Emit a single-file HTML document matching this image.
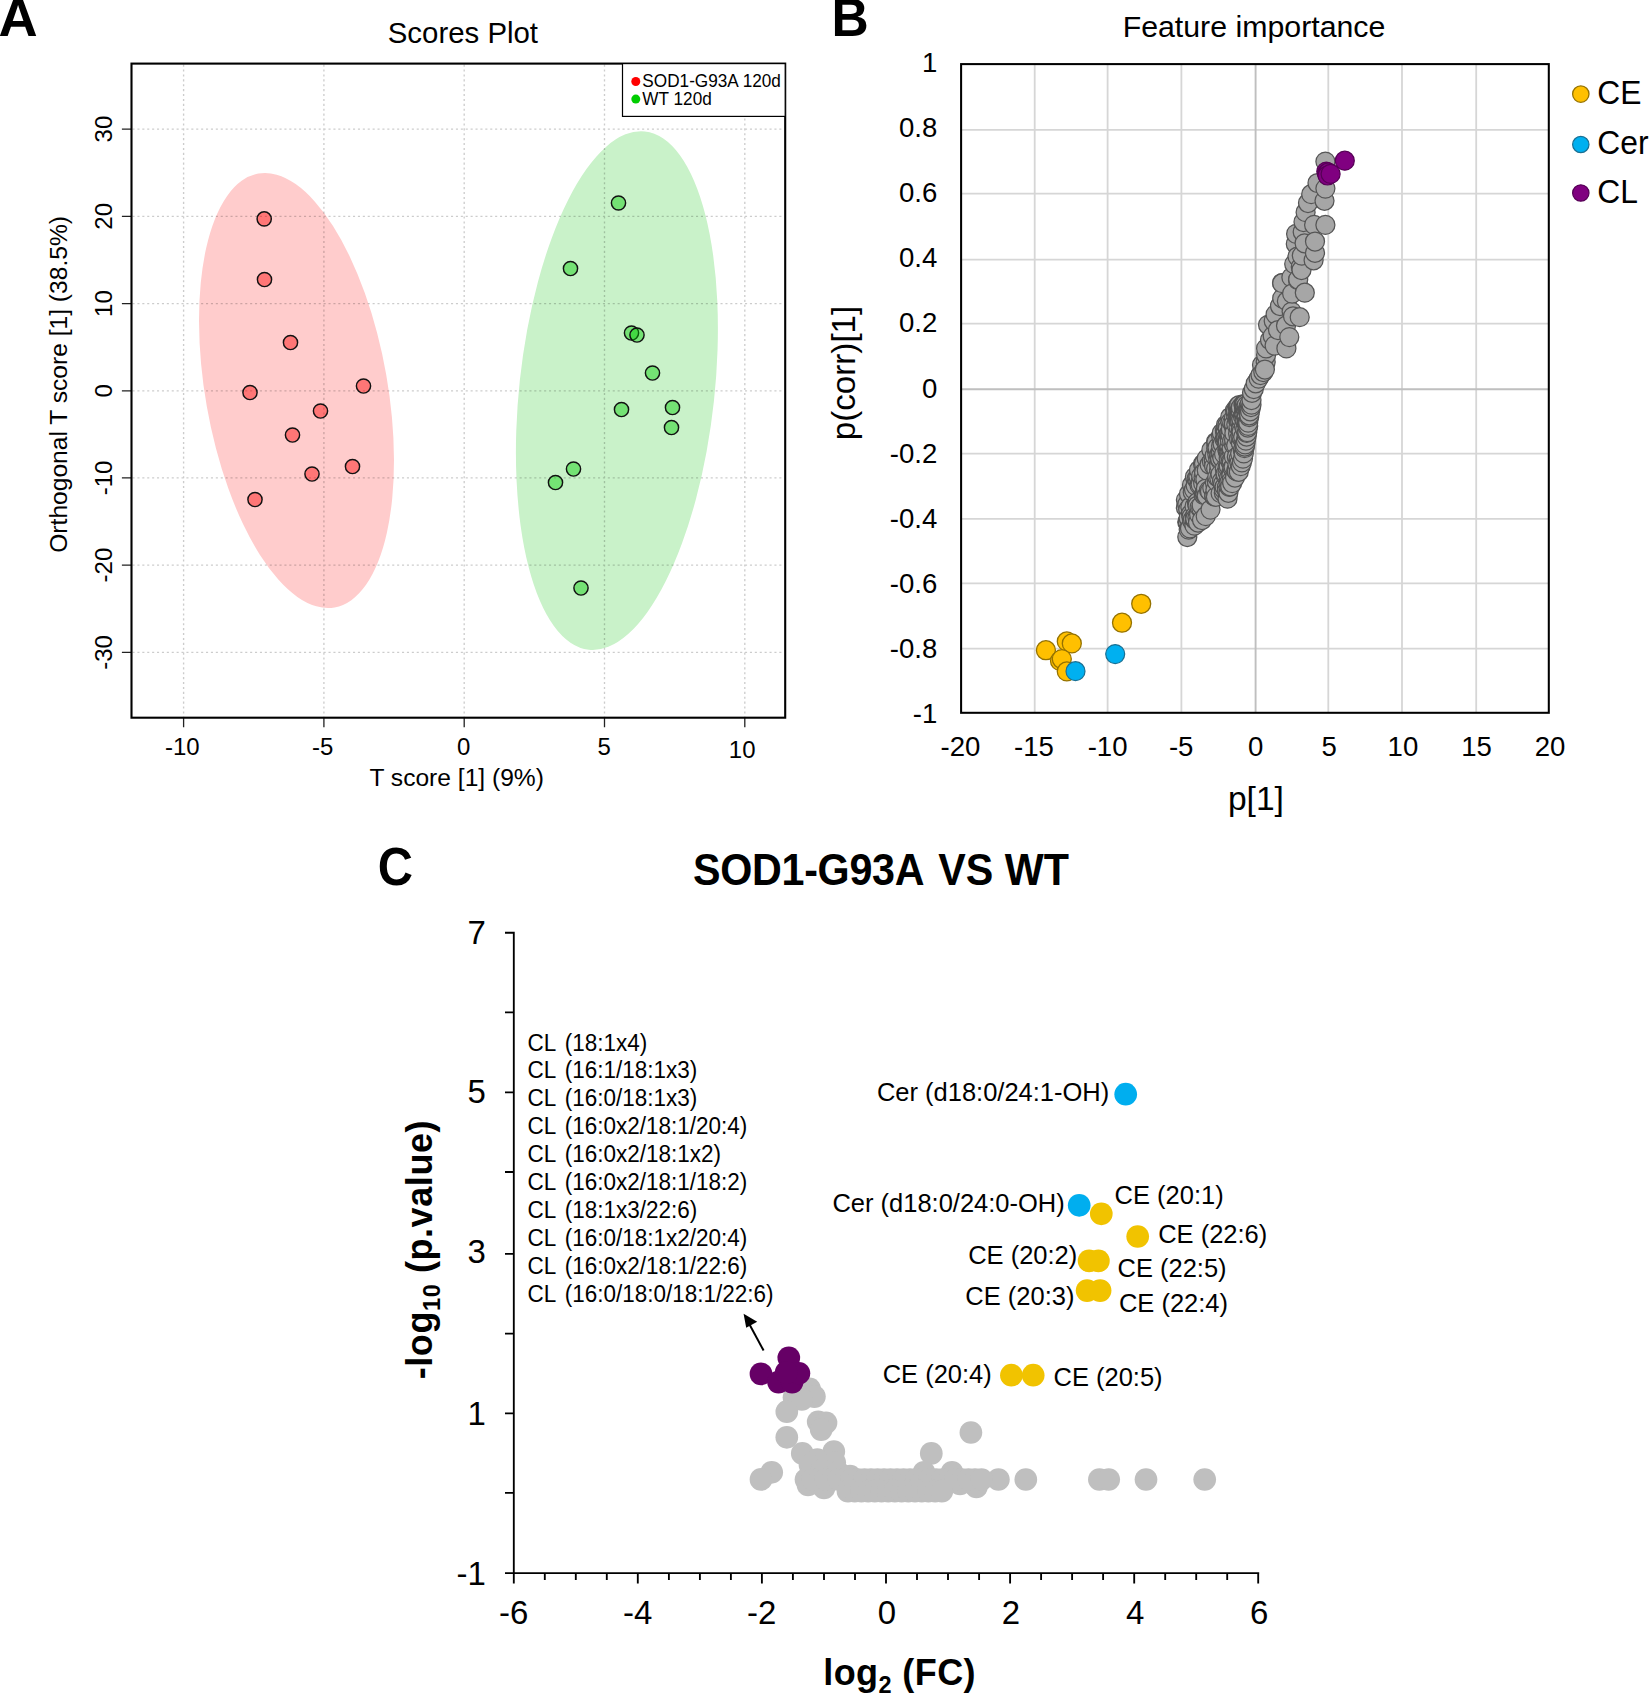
<!DOCTYPE html>
<html lang="en"><head><meta charset="utf-8"><title>Figure</title>
<style>html,body{margin:0;padding:0;background:#fff}svg{display:block}text{font-family:"Liberation Sans", sans-serif;fill:#000}</style></head><body>
<svg width="1650" height="1694" viewBox="0 0 1650 1694">
<rect width="1650" height="1694" fill="#fff"/>
<g id="panelA">
<text transform="translate(-1.4 36.4) scale(1.074 1.045)" font-size="50.5" font-weight="bold">A</text>
<text x="462.9" y="42.7" font-size="29.4" text-anchor="middle">Scores Plot</text>
<ellipse cx="296.5" cy="390.5" rx="91.1" ry="220.2" transform="rotate(-9.96 296.5 390.5)" fill="#ffcccc"/>
<ellipse cx="616.9" cy="390.6" rx="97.6" ry="260.7" transform="rotate(6.17 616.9 390.6)" fill="#c9f2c9"/>
<path d="M183.6 64.6V716.7M323.9 64.6V716.7M464.2 64.6V716.7M604.5 64.6V716.7M744.8 64.6V716.7M132.5 652.4H784.2M132.5 565.1H784.2M132.5 477.9H784.2M132.5 390.8H784.2M132.5 303.6H784.2M132.5 216.3H784.2M132.5 129.1H784.2" stroke="#000" stroke-opacity="0.2" stroke-width="1.35" stroke-dasharray="2.1 2.8" fill="none"/>
<path d="M183.6 717.7V727.3M323.9 717.7V727.3M464.2 717.7V727.3M604.5 717.7V727.3M744.8 717.7V727.3M131.5 652.4H121.9M131.5 565.1H121.9M131.5 477.9H121.9M131.5 390.8H121.9M131.5 303.6H121.9M131.5 216.3H121.9M131.5 129.1H121.9" stroke="#222" stroke-width="1.3" fill="none"/>
<rect x="131.5" y="63.6" width="653.7" height="654.1" fill="none" stroke="#000" stroke-width="2.1"/>
<circle cx="264.2" cy="218.9" r="7.1" fill="#ff0000" fill-opacity="0.42" stroke="#111" stroke-width="1.45"/>
<circle cx="264.5" cy="279.5" r="7.1" fill="#ff0000" fill-opacity="0.42" stroke="#111" stroke-width="1.45"/>
<circle cx="290.5" cy="342.5" r="7.1" fill="#ff0000" fill-opacity="0.42" stroke="#111" stroke-width="1.45"/>
<circle cx="250.0" cy="392.5" r="7.1" fill="#ff0000" fill-opacity="0.42" stroke="#111" stroke-width="1.45"/>
<circle cx="363.5" cy="386.0" r="7.1" fill="#ff0000" fill-opacity="0.42" stroke="#111" stroke-width="1.45"/>
<circle cx="320.5" cy="411.0" r="7.1" fill="#ff0000" fill-opacity="0.42" stroke="#111" stroke-width="1.45"/>
<circle cx="292.5" cy="435.0" r="7.1" fill="#ff0000" fill-opacity="0.42" stroke="#111" stroke-width="1.45"/>
<circle cx="352.5" cy="466.5" r="7.1" fill="#ff0000" fill-opacity="0.42" stroke="#111" stroke-width="1.45"/>
<circle cx="312.0" cy="474.0" r="7.1" fill="#ff0000" fill-opacity="0.42" stroke="#111" stroke-width="1.45"/>
<circle cx="255.0" cy="499.5" r="7.1" fill="#ff0000" fill-opacity="0.42" stroke="#111" stroke-width="1.45"/>
<circle cx="618.5" cy="203.0" r="7.1" fill="#00cd00" fill-opacity="0.42" stroke="#111" stroke-width="1.45"/>
<circle cx="570.5" cy="268.5" r="7.1" fill="#00cd00" fill-opacity="0.42" stroke="#111" stroke-width="1.45"/>
<circle cx="631.5" cy="333.0" r="7.1" fill="#00cd00" fill-opacity="0.42" stroke="#111" stroke-width="1.45"/>
<circle cx="637.0" cy="335.0" r="7.1" fill="#00cd00" fill-opacity="0.42" stroke="#111" stroke-width="1.45"/>
<circle cx="652.5" cy="373.0" r="7.1" fill="#00cd00" fill-opacity="0.42" stroke="#111" stroke-width="1.45"/>
<circle cx="621.5" cy="409.5" r="7.1" fill="#00cd00" fill-opacity="0.42" stroke="#111" stroke-width="1.45"/>
<circle cx="672.5" cy="407.5" r="7.1" fill="#00cd00" fill-opacity="0.42" stroke="#111" stroke-width="1.45"/>
<circle cx="671.5" cy="427.5" r="7.1" fill="#00cd00" fill-opacity="0.42" stroke="#111" stroke-width="1.45"/>
<circle cx="573.5" cy="469.0" r="7.1" fill="#00cd00" fill-opacity="0.42" stroke="#111" stroke-width="1.45"/>
<circle cx="555.5" cy="482.5" r="7.1" fill="#00cd00" fill-opacity="0.42" stroke="#111" stroke-width="1.45"/>
<circle cx="581.0" cy="588.0" r="7.1" fill="#00cd00" fill-opacity="0.42" stroke="#111" stroke-width="1.45"/>
<text transform="translate(182.3 754.8) scale(1 1.035)" font-size="24" text-anchor="middle">-10</text>
<text transform="translate(322.6 754.8) scale(1 1.035)" font-size="24" text-anchor="middle">-5</text>
<text transform="translate(463.7 754.8) scale(1 1.035)" font-size="24" text-anchor="middle">0</text>
<text transform="translate(604.2 754.8) scale(1 1.035)" font-size="24" text-anchor="middle">5</text>
<text transform="translate(742.2 758.0) scale(1 1.035)" font-size="24" text-anchor="middle">10</text>
<text transform="translate(111.9 652.4) rotate(-90) scale(1 1.035)" font-size="24" text-anchor="middle">-30</text>
<text transform="translate(111.9 565.1) rotate(-90) scale(1 1.035)" font-size="24" text-anchor="middle">-20</text>
<text transform="translate(111.9 477.9) rotate(-90) scale(1 1.035)" font-size="24" text-anchor="middle">-10</text>
<text transform="translate(111.9 390.8) rotate(-90) scale(1 1.035)" font-size="24" text-anchor="middle">0</text>
<text transform="translate(111.9 303.6) rotate(-90) scale(1 1.035)" font-size="24" text-anchor="middle">10</text>
<text transform="translate(111.9 216.3) rotate(-90) scale(1 1.035)" font-size="24" text-anchor="middle">20</text>
<text transform="translate(111.9 129.1) rotate(-90) scale(1 1.035)" font-size="24" text-anchor="middle">30</text>
<text x="456.7" y="786" font-size="24.6" text-anchor="middle">T score [1] (9%)</text>
<text transform="translate(67.2 384.4) rotate(-90)" font-size="24.6" text-anchor="middle">Orthogonal T score [1] (38.5%)</text>
<rect x="622.5" y="63.6" width="162.7" height="52.8" fill="#fff" stroke="#000" stroke-width="1.2"/>
<circle cx="635.8" cy="81.5" r="4.5" fill="#ff0000"/>
<circle cx="635.8" cy="99.1" r="4.5" fill="#00cd00"/>
<text transform="translate(642.3 86.7) scale(1 1.035)" font-size="17.2">SOD1-G93A 120d</text>
<text transform="translate(642.3 104.6) scale(1 1.035)" font-size="17.2">WT 120d</text>
</g>
<g id="panelB">
<text transform="translate(831.6 36.4) scale(1.02 1.045)" font-size="50.5" font-weight="bold">B</text>
<text x="1254" y="36.6" font-size="30.3" text-anchor="middle">Feature importance</text>
<path d="M1034.7 64.1V712.8M1107.6 64.1V712.8M1181.4 64.1V712.8M1328.3 64.1V712.8M1402.0 64.1V712.8M1476.2 64.1V712.8M961.1 648.7H1548.8M961.1 583.3H1548.8M961.1 518.9H1548.8M961.1 453.7H1548.8M961.1 323.7H1548.8M961.1 259.6H1548.8M961.1 193.7H1548.8M961.1 129.8H1548.8" stroke="#d6d6d6" stroke-width="1.8" fill="none"/>
<path d="M1255.6 64.1V712.8M961.1 389.2H1548.8" stroke="#bfbfbf" stroke-width="1.9" fill="none"/>
<rect x="961.1" y="64.1" width="587.7" height="648.7" fill="none" stroke="#000" stroke-width="2.05"/>
<text transform="translate(937.3 722.8) scale(1 1.035)" font-size="27.6" text-anchor="end">-1</text>
<text transform="translate(937.3 657.7) scale(1 1.035)" font-size="27.6" text-anchor="end">-0.8</text>
<text transform="translate(937.3 592.7) scale(1 1.035)" font-size="27.6" text-anchor="end">-0.6</text>
<text transform="translate(937.3 527.6) scale(1 1.035)" font-size="27.6" text-anchor="end">-0.4</text>
<text transform="translate(937.3 462.6) scale(1 1.035)" font-size="27.6" text-anchor="end">-0.2</text>
<text transform="translate(937.3 397.5) scale(1 1.035)" font-size="27.6" text-anchor="end">0</text>
<text transform="translate(937.3 332.4) scale(1 1.035)" font-size="27.6" text-anchor="end">0.2</text>
<text transform="translate(937.3 267.4) scale(1 1.035)" font-size="27.6" text-anchor="end">0.4</text>
<text transform="translate(937.3 202.3) scale(1 1.035)" font-size="27.6" text-anchor="end">0.6</text>
<text transform="translate(937.3 137.3) scale(1 1.035)" font-size="27.6" text-anchor="end">0.8</text>
<text transform="translate(937.3 72.2) scale(1 1.035)" font-size="27.6" text-anchor="end">1</text>
<text transform="translate(960.5 756.1) scale(1 1.035)" font-size="27.6" text-anchor="middle">-20</text>
<text transform="translate(1034.0 756.1) scale(1 1.035)" font-size="27.6" text-anchor="middle">-15</text>
<text transform="translate(1107.6 756.1) scale(1 1.035)" font-size="27.6" text-anchor="middle">-10</text>
<text transform="translate(1181.2 756.1) scale(1 1.035)" font-size="27.6" text-anchor="middle">-5</text>
<text transform="translate(1255.7 756.1) scale(1 1.035)" font-size="27.6" text-anchor="middle">0</text>
<text transform="translate(1329.3 756.1) scale(1 1.035)" font-size="27.6" text-anchor="middle">5</text>
<text transform="translate(1402.9 756.1) scale(1 1.035)" font-size="27.6" text-anchor="middle">10</text>
<text transform="translate(1476.5 756.1) scale(1 1.035)" font-size="27.6" text-anchor="middle">15</text>
<text transform="translate(1550.0 756.1) scale(1 1.035)" font-size="27.6" text-anchor="middle">20</text>
<text x="1255.9" y="809.7" font-size="33.6" text-anchor="middle">p[1]</text>
<text transform="translate(854.5 373) rotate(-90)" font-size="33.2" text-anchor="middle">p(corr)[1]</text>
<g fill="#a6a6a6" stroke="#555" stroke-width="1.25"><circle cx="1185.9" cy="507.7" r="9.5"/><circle cx="1185.9" cy="500.1" r="9.5"/><circle cx="1187.3" cy="537.0" r="9.5"/><circle cx="1187.3" cy="522.2" r="9.5"/><circle cx="1187.3" cy="504.4" r="9.5"/><circle cx="1187.8" cy="521.8" r="9.5"/><circle cx="1188.2" cy="509.6" r="9.5"/><circle cx="1188.6" cy="518.0" r="9.5"/><circle cx="1188.7" cy="529.6" r="9.5"/><circle cx="1189.0" cy="494.0" r="9.5"/><circle cx="1190.0" cy="528.4" r="9.5"/><circle cx="1190.4" cy="506.7" r="9.5"/><circle cx="1191.0" cy="514.0" r="9.5"/><circle cx="1191.5" cy="516.9" r="9.5"/><circle cx="1192.0" cy="485.0" r="9.5"/><circle cx="1192.2" cy="521.0" r="9.5"/><circle cx="1192.7" cy="492.1" r="9.5"/><circle cx="1193.0" cy="519.2" r="9.5"/><circle cx="1194.0" cy="489.6" r="9.5"/><circle cx="1194.4" cy="525.6" r="9.5"/><circle cx="1194.6" cy="506.2" r="9.5"/><circle cx="1194.9" cy="477.0" r="9.5"/><circle cx="1195.0" cy="519.9" r="9.5"/><circle cx="1195.1" cy="515.8" r="9.5"/><circle cx="1195.2" cy="518.7" r="9.5"/><circle cx="1195.6" cy="485.6" r="9.5"/><circle cx="1196.6" cy="478.8" r="9.5"/><circle cx="1197.0" cy="503.3" r="9.5"/><circle cx="1197.4" cy="517.6" r="9.5"/><circle cx="1197.5" cy="502.2" r="9.5"/><circle cx="1197.6" cy="505.5" r="9.5"/><circle cx="1198.0" cy="522.5" r="9.5"/><circle cx="1198.1" cy="479.9" r="9.5"/><circle cx="1198.4" cy="476.4" r="9.5"/><circle cx="1199.0" cy="470.0" r="9.5"/><circle cx="1199.1" cy="514.6" r="9.5"/><circle cx="1199.5" cy="485.2" r="9.5"/><circle cx="1199.6" cy="507.3" r="9.5"/><circle cx="1200.4" cy="482.1" r="9.5"/><circle cx="1200.6" cy="484.5" r="9.5"/><circle cx="1201.2" cy="476.0" r="9.5"/><circle cx="1201.3" cy="508.5" r="9.5"/><circle cx="1201.7" cy="505.1" r="9.5"/><circle cx="1202.0" cy="520.0" r="9.5"/><circle cx="1203.0" cy="464.0" r="9.5"/><circle cx="1203.2" cy="483.5" r="9.5"/><circle cx="1203.6" cy="477.5" r="9.5"/><circle cx="1203.8" cy="495.0" r="9.5"/><circle cx="1204.0" cy="463.5" r="9.5"/><circle cx="1204.1" cy="472.5" r="9.5"/><circle cx="1204.8" cy="493.9" r="9.5"/><circle cx="1205.4" cy="494.3" r="9.5"/><circle cx="1205.4" cy="479.3" r="9.5"/><circle cx="1205.7" cy="516.2" r="9.5"/><circle cx="1205.9" cy="488.5" r="9.5"/><circle cx="1206.7" cy="495.7" r="9.5"/><circle cx="1206.7" cy="458.6" r="9.5"/><circle cx="1206.8" cy="470.4" r="9.5"/><circle cx="1209.0" cy="490.3" r="9.5"/><circle cx="1209.6" cy="464.5" r="9.5"/><circle cx="1210.0" cy="491.4" r="9.5"/><circle cx="1210.5" cy="509.6" r="9.5"/><circle cx="1211.4" cy="450.0" r="9.5"/><circle cx="1211.9" cy="461.4" r="9.5"/><circle cx="1212.3" cy="488.1" r="9.5"/><circle cx="1213.8" cy="460.7" r="9.5"/><circle cx="1214.1" cy="466.3" r="9.5"/><circle cx="1214.2" cy="496.3" r="9.5"/><circle cx="1214.4" cy="496.1" r="9.5"/><circle cx="1214.7" cy="455.6" r="9.5"/><circle cx="1214.9" cy="482.8" r="9.5"/><circle cx="1215.4" cy="489.9" r="9.5"/><circle cx="1215.9" cy="496.8" r="9.5"/><circle cx="1216.0" cy="442.0" r="9.5"/><circle cx="1216.1" cy="468.6" r="9.5"/><circle cx="1216.2" cy="448.5" r="9.5"/><circle cx="1216.5" cy="442.2" r="9.5"/><circle cx="1216.9" cy="481.7" r="9.5"/><circle cx="1217.3" cy="477.1" r="9.5"/><circle cx="1217.3" cy="454.6" r="9.5"/><circle cx="1217.5" cy="449.2" r="9.5"/><circle cx="1217.5" cy="447.5" r="9.5"/><circle cx="1218.3" cy="459.7" r="9.5"/><circle cx="1219.1" cy="470.1" r="9.5"/><circle cx="1219.1" cy="455.2" r="9.5"/><circle cx="1219.2" cy="465.2" r="9.5"/><circle cx="1219.3" cy="478.2" r="9.5"/><circle cx="1220.1" cy="460.1" r="9.5"/><circle cx="1220.1" cy="458.6" r="9.5"/><circle cx="1220.3" cy="452.5" r="9.5"/><circle cx="1220.5" cy="474.3" r="9.5"/><circle cx="1220.6" cy="493.2" r="9.5"/><circle cx="1221.0" cy="451.9" r="9.5"/><circle cx="1221.1" cy="445.9" r="9.5"/><circle cx="1221.1" cy="435.9" r="9.5"/><circle cx="1221.8" cy="433.0" r="9.5"/><circle cx="1222.0" cy="481.0" r="9.5"/><circle cx="1222.3" cy="458.0" r="9.5"/><circle cx="1222.6" cy="443.8" r="9.5"/><circle cx="1223.0" cy="483.9" r="9.5"/><circle cx="1223.8" cy="492.8" r="9.5"/><circle cx="1223.8" cy="489.2" r="9.5"/><circle cx="1224.1" cy="454.2" r="9.5"/><circle cx="1224.6" cy="486.7" r="9.5"/><circle cx="1224.6" cy="439.6" r="9.5"/><circle cx="1224.8" cy="469.1" r="9.5"/><circle cx="1224.9" cy="430.2" r="9.5"/><circle cx="1225.1" cy="432.2" r="9.5"/><circle cx="1225.5" cy="475.3" r="9.5"/><circle cx="1225.6" cy="473.6" r="9.5"/><circle cx="1225.6" cy="438.6" r="9.5"/><circle cx="1225.8" cy="431.2" r="9.5"/><circle cx="1226.0" cy="425.0" r="9.5"/><circle cx="1226.3" cy="437.3" r="9.5"/><circle cx="1226.7" cy="443.2" r="9.5"/><circle cx="1226.9" cy="487.4" r="9.5"/><circle cx="1227.1" cy="491.0" r="9.5"/><circle cx="1227.3" cy="440.2" r="9.5"/><circle cx="1227.3" cy="425.5" r="9.5"/><circle cx="1227.4" cy="449.8" r="9.5"/><circle cx="1227.5" cy="498.7" r="9.5"/><circle cx="1227.5" cy="471.9" r="9.5"/><circle cx="1227.6" cy="467.3" r="9.5"/><circle cx="1227.7" cy="451.2" r="9.5"/><circle cx="1227.7" cy="428.6" r="9.5"/><circle cx="1227.8" cy="441.6" r="9.5"/><circle cx="1228.4" cy="492.8" r="9.5"/><circle cx="1228.4" cy="434.3" r="9.5"/><circle cx="1228.7" cy="465.9" r="9.5"/><circle cx="1228.7" cy="458.4" r="9.5"/><circle cx="1228.7" cy="451.5" r="9.5"/><circle cx="1229.0" cy="477.8" r="9.5"/><circle cx="1229.2" cy="435.3" r="9.5"/><circle cx="1229.3" cy="486.9" r="9.5"/><circle cx="1229.4" cy="482.4" r="9.5"/><circle cx="1229.5" cy="447.1" r="9.5"/><circle cx="1229.5" cy="433.1" r="9.5"/><circle cx="1229.9" cy="440.6" r="9.5"/><circle cx="1230.2" cy="486.3" r="9.5"/><circle cx="1230.2" cy="452.9" r="9.5"/><circle cx="1230.3" cy="457.3" r="9.5"/><circle cx="1230.3" cy="417.0" r="9.5"/><circle cx="1230.4" cy="422.5" r="9.5"/><circle cx="1230.5" cy="434.7" r="9.5"/><circle cx="1230.6" cy="461.8" r="9.5"/><circle cx="1230.9" cy="429.2" r="9.5"/><circle cx="1231.1" cy="473.2" r="9.5"/><circle cx="1231.4" cy="474.7" r="9.5"/><circle cx="1231.5" cy="450.8" r="9.5"/><circle cx="1231.6" cy="480.6" r="9.5"/><circle cx="1231.6" cy="448.1" r="9.5"/><circle cx="1231.9" cy="462.4" r="9.5"/><circle cx="1232.1" cy="441.2" r="9.5"/><circle cx="1232.2" cy="483.1" r="9.5"/><circle cx="1232.2" cy="423.1" r="9.5"/><circle cx="1232.5" cy="468.0" r="9.5"/><circle cx="1233.6" cy="466.9" r="9.5"/><circle cx="1233.8" cy="456.3" r="9.5"/><circle cx="1233.8" cy="418.2" r="9.5"/><circle cx="1233.9" cy="426.5" r="9.5"/><circle cx="1233.9" cy="424.0" r="9.5"/><circle cx="1234.1" cy="444.8" r="9.5"/><circle cx="1234.1" cy="439.9" r="9.5"/><circle cx="1234.4" cy="433.4" r="9.5"/><circle cx="1235.0" cy="477.5" r="9.5"/><circle cx="1235.0" cy="410.4" r="9.5"/><circle cx="1236.0" cy="415.0" r="9.5"/><circle cx="1236.0" cy="410.8" r="9.5"/><circle cx="1236.2" cy="445.5" r="9.5"/><circle cx="1236.3" cy="470.8" r="9.5"/><circle cx="1236.3" cy="424.6" r="9.5"/><circle cx="1236.6" cy="469.7" r="9.5"/><circle cx="1236.8" cy="456.9" r="9.5"/><circle cx="1237.0" cy="471.4" r="9.5"/><circle cx="1237.4" cy="464.1" r="9.5"/><circle cx="1237.7" cy="415.9" r="9.5"/><circle cx="1237.8" cy="406.6" r="9.5"/><circle cx="1238.0" cy="409.5" r="9.5"/><circle cx="1238.1" cy="433.7" r="9.5"/><circle cx="1238.1" cy="420.1" r="9.5"/><circle cx="1238.3" cy="420.6" r="9.5"/><circle cx="1238.5" cy="427.1" r="9.5"/><circle cx="1238.5" cy="406.0" r="9.5"/><circle cx="1238.6" cy="459.0" r="9.5"/><circle cx="1238.6" cy="412.7" r="9.5"/><circle cx="1238.8" cy="471.8" r="9.5"/><circle cx="1238.8" cy="419.2" r="9.5"/><circle cx="1239.1" cy="438.9" r="9.5"/><circle cx="1239.1" cy="413.0" r="9.5"/><circle cx="1239.2" cy="421.6" r="9.5"/><circle cx="1239.3" cy="412.2" r="9.5"/><circle cx="1239.3" cy="405.0" r="9.5"/><circle cx="1239.4" cy="462.8" r="9.5"/><circle cx="1239.6" cy="414.5" r="9.5"/><circle cx="1239.8" cy="417.7" r="9.5"/><circle cx="1240.1" cy="416.8" r="9.5"/><circle cx="1240.2" cy="453.5" r="9.5"/><circle cx="1240.3" cy="422.1" r="9.5"/><circle cx="1240.6" cy="407.9" r="9.5"/><circle cx="1240.7" cy="466.1" r="9.5"/><circle cx="1240.7" cy="410.3" r="9.5"/><circle cx="1240.8" cy="442.8" r="9.5"/><circle cx="1240.8" cy="429.0" r="9.5"/><circle cx="1240.8" cy="412.5" r="9.5"/><circle cx="1240.9" cy="407.4" r="9.5"/><circle cx="1241.0" cy="430.6" r="9.5"/><circle cx="1241.3" cy="437.9" r="9.5"/><circle cx="1241.3" cy="428.0" r="9.5"/><circle cx="1241.3" cy="427.7" r="9.5"/><circle cx="1241.3" cy="418.8" r="9.5"/><circle cx="1241.4" cy="436.3" r="9.5"/><circle cx="1241.6" cy="431.8" r="9.5"/><circle cx="1241.9" cy="462.4" r="9.5"/><circle cx="1242.8" cy="450.2" r="9.5"/><circle cx="1242.9" cy="416.2" r="9.5"/><circle cx="1243.0" cy="458.6" r="9.5"/><circle cx="1243.2" cy="436.9" r="9.5"/><circle cx="1243.6" cy="404.0" r="9.5"/><circle cx="1243.7" cy="413.9" r="9.5"/><circle cx="1243.7" cy="404.7" r="9.5"/><circle cx="1243.8" cy="453.4" r="9.5"/><circle cx="1243.8" cy="405.9" r="9.5"/><circle cx="1243.9" cy="426.1" r="9.5"/><circle cx="1244.5" cy="448.2" r="9.5"/><circle cx="1244.6" cy="444.2" r="9.5"/><circle cx="1244.6" cy="419.7" r="9.5"/><circle cx="1244.6" cy="409.2" r="9.5"/><circle cx="1244.6" cy="406.1" r="9.5"/><circle cx="1244.7" cy="446.5" r="9.5"/><circle cx="1245.0" cy="404.3" r="9.5"/><circle cx="1245.2" cy="444.4" r="9.5"/><circle cx="1245.2" cy="429.6" r="9.5"/><circle cx="1245.3" cy="421.2" r="9.5"/><circle cx="1245.3" cy="413.6" r="9.5"/><circle cx="1245.6" cy="408.7" r="9.5"/><circle cx="1245.6" cy="407.1" r="9.5"/><circle cx="1245.9" cy="440.6" r="9.5"/><circle cx="1246.6" cy="436.5" r="9.5"/><circle cx="1246.6" cy="432.8" r="9.5"/><circle cx="1246.6" cy="411.3" r="9.5"/><circle cx="1246.7" cy="417.3" r="9.5"/><circle cx="1246.7" cy="405.4" r="9.5"/><circle cx="1246.8" cy="422.7" r="9.5"/><circle cx="1247.3" cy="432.1" r="9.5"/><circle cx="1247.5" cy="423.7" r="9.5"/><circle cx="1247.7" cy="425.2" r="9.5"/><circle cx="1247.7" cy="410.0" r="9.5"/><circle cx="1247.8" cy="427.5" r="9.5"/><circle cx="1248.2" cy="425.9" r="9.5"/><circle cx="1248.2" cy="422.7" r="9.5"/><circle cx="1248.2" cy="411.7" r="9.5"/><circle cx="1248.5" cy="406.9" r="9.5"/><circle cx="1248.8" cy="408.2" r="9.5"/><circle cx="1249.1" cy="414.5" r="9.5"/><circle cx="1249.2" cy="417.0" r="9.5"/><circle cx="1249.2" cy="415.3" r="9.5"/><circle cx="1249.6" cy="404.1" r="9.5"/><circle cx="1250.1" cy="411.3" r="9.5"/><circle cx="1251.0" cy="407.0" r="9.5"/><circle cx="1251.5" cy="404.7" r="9.5"/><circle cx="1251.5" cy="400.0" r="9.5"/><circle cx="1252.0" cy="392.8" r="9.5"/><circle cx="1253.8" cy="389.0" r="9.5"/><circle cx="1255.7" cy="383.3" r="9.5"/><circle cx="1258.6" cy="378.6" r="9.5"/><circle cx="1260.5" cy="375.0" r="9.5"/><circle cx="1262.0" cy="365.0" r="9.5"/><circle cx="1263.3" cy="372.0" r="9.5"/><circle cx="1265.7" cy="362.0" r="9.5"/><circle cx="1266.1" cy="355.0" r="9.5"/><circle cx="1266.1" cy="348.4" r="9.5"/><circle cx="1268.0" cy="324.8" r="9.5"/><circle cx="1270.0" cy="340.0" r="9.5"/><circle cx="1272.7" cy="336.1" r="9.5"/><circle cx="1273.7" cy="321.0" r="9.5"/><circle cx="1274.6" cy="345.6" r="9.5"/><circle cx="1275.6" cy="314.4" r="9.5"/><circle cx="1278.0" cy="330.0" r="9.5"/><circle cx="1280.0" cy="306.0" r="9.5"/><circle cx="1282.0" cy="283.0" r="9.5"/><circle cx="1282.2" cy="298.3" r="9.5"/><circle cx="1282.2" cy="283.2" r="9.5"/><circle cx="1286.0" cy="325.7" r="9.5"/><circle cx="1286.4" cy="348.4" r="9.5"/><circle cx="1286.9" cy="301.2" r="9.5"/><circle cx="1289.3" cy="337.1" r="9.5"/><circle cx="1291.4" cy="277.4" r="9.5"/><circle cx="1291.6" cy="311.6" r="9.5"/><circle cx="1292.1" cy="293.6" r="9.5"/><circle cx="1293.0" cy="316.3" r="9.5"/><circle cx="1294.2" cy="264.1" r="9.5"/><circle cx="1295.8" cy="244.0" r="9.5"/><circle cx="1296.1" cy="233.9" r="9.5"/><circle cx="1297.5" cy="256.5" r="9.5"/><circle cx="1298.0" cy="280.2" r="9.5"/><circle cx="1298.2" cy="279.4" r="9.5"/><circle cx="1299.7" cy="317.2" r="9.5"/><circle cx="1300.8" cy="267.0" r="9.5"/><circle cx="1301.5" cy="270.0" r="9.5"/><circle cx="1301.8" cy="255.6" r="9.5"/><circle cx="1302.7" cy="232.0" r="9.5"/><circle cx="1303.5" cy="222.0" r="9.5"/><circle cx="1304.6" cy="243.3" r="9.5"/><circle cx="1304.8" cy="292.7" r="9.5"/><circle cx="1305.6" cy="212.2" r="9.5"/><circle cx="1308.0" cy="203.0" r="9.5"/><circle cx="1311.2" cy="194.2" r="9.5"/><circle cx="1313.6" cy="260.3" r="9.5"/><circle cx="1314.1" cy="224.9" r="9.5"/><circle cx="1315.0" cy="252.8" r="9.5"/><circle cx="1315.0" cy="241.5" r="9.5"/><circle cx="1317.5" cy="183.0" r="9.5"/><circle cx="1324.5" cy="200.8" r="9.5"/><circle cx="1325.4" cy="224.9" r="9.5"/><circle cx="1325.4" cy="188.6" r="9.5"/><circle cx="1325.4" cy="161.6" r="9.5"/><circle cx="1264.9" cy="369.5" r="9.5"/></g>
<g fill="#ffc000" stroke="#957200" stroke-width="1.3"><circle cx="1141.2" cy="603.8" r="9.5"/><circle cx="1122.0" cy="622.7" r="9.5"/><circle cx="1066.8" cy="641.4" r="9.5"/><circle cx="1071.8" cy="643.4" r="9.5"/><circle cx="1045.9" cy="650.2" r="9.5"/><circle cx="1060.0" cy="660.9" r="9.5"/><circle cx="1061.8" cy="659.1" r="9.5"/><circle cx="1066.8" cy="671.4" r="9.5"/></g>
<g fill="#00b0f0" stroke="#1a6f92" stroke-width="1.2"><circle cx="1115.2" cy="654.1" r="9.5"/><circle cx="1075.5" cy="671.2" r="9.5"/></g>
<g fill="#800080" stroke="#560056" stroke-width="1.2"><circle cx="1326.3" cy="171.6" r="9.5"/><circle cx="1327.0" cy="173.5" r="9.5"/><circle cx="1328.2" cy="172.5" r="9.5"/><circle cx="1327.5" cy="175.5" r="9.5"/><circle cx="1330.6" cy="173.9" r="9.5"/><circle cx="1344.8" cy="160.7" r="9.5"/></g>
<circle cx="1580.8" cy="94.1" r="8.2" fill="#ffc000" stroke="#957200" stroke-width="1.3"/>
<circle cx="1580.8" cy="144.5" r="8.2" fill="#00b0f0" stroke="#1a6f92" stroke-width="1.2"/>
<circle cx="1580.8" cy="193" r="8.2" fill="#800080" stroke="#560056" stroke-width="1.2"/>
<text transform="translate(1597.3 103.9) scale(1 1.03)" font-size="31.8">CE</text>
<text transform="translate(1597.3 153.9) scale(1 1.03)" font-size="31.8">Cer</text>
<text transform="translate(1597.3 203.4) scale(1 1.03)" font-size="31.8">CL</text>
</g>
<g id="panelC">
<text transform="translate(377.7 885.3) scale(0.967 1.05)" font-size="50.5" font-weight="bold">C</text>
<text transform="translate(881.0 885.3) scale(1 1.06)" font-size="41.25" font-weight="bold" text-anchor="middle"><tspan letter-spacing="-0.3">SOD1-G93A</tspan><tspan dx="2.7"> VS WT</tspan></text>
<path d="M513.8 931.7V1583.6M505.0 1573.1H1259.2M513.8 1573.1H505.0M513.8 1492.9H505.0M513.8 1413.4H505.0M513.8 1333.6H505.0M513.8 1253.8H505.0M513.8 1172.0H505.0M513.8 1092.3H505.0M513.8 1012.4H505.0M513.8 932.7H505.0M513.8 1573.1V1583.6M544.8 1573.1V1580.1M575.8 1573.1V1580.1M606.8 1573.1V1580.1M637.8 1573.1V1583.6M668.9 1573.1V1580.1M699.9 1573.1V1580.1M730.9 1573.1V1580.1M761.9 1573.1V1583.6M792.9 1573.1V1580.1M824.0 1573.1V1580.1M855.0 1573.1V1580.1M886.0 1573.1V1583.6M917.0 1573.1V1580.1M948.0 1573.1V1580.1M979.1 1573.1V1580.1M1010.1 1573.1V1583.6M1041.1 1573.1V1580.1M1072.1 1573.1V1580.1M1103.1 1573.1V1580.1M1134.2 1573.1V1583.6M1165.2 1573.1V1580.1M1196.2 1573.1V1580.1M1227.2 1573.1V1580.1M1258.2 1573.1V1583.6" stroke="#000" stroke-width="1.85" fill="none"/>
<text transform="translate(485.8 1584.5) scale(1 1.035)" font-size="33" text-anchor="end">-1</text>
<text transform="translate(485.8 1424.5) scale(1 1.035)" font-size="33" text-anchor="end">1</text>
<text transform="translate(485.8 1263.0) scale(1 1.035)" font-size="33" text-anchor="end">3</text>
<text transform="translate(485.8 1103.3) scale(1 1.035)" font-size="33" text-anchor="end">5</text>
<text transform="translate(485.8 943.8) scale(1 1.035)" font-size="33" text-anchor="end">7</text>
<text transform="translate(513.6 1623.7) scale(1 1.035)" font-size="33" text-anchor="middle">-6</text>
<text transform="translate(637.6 1623.7) scale(1 1.035)" font-size="33" text-anchor="middle">-4</text>
<text transform="translate(761.7 1623.7) scale(1 1.035)" font-size="33" text-anchor="middle">-2</text>
<text transform="translate(886.9 1623.7) scale(1 1.035)" font-size="33" text-anchor="middle">0</text>
<text transform="translate(1011.0 1623.7) scale(1 1.035)" font-size="33" text-anchor="middle">2</text>
<text transform="translate(1135.1 1623.7) scale(1 1.035)" font-size="33" text-anchor="middle">4</text>
<text transform="translate(1259.1 1623.7) scale(1 1.035)" font-size="33" text-anchor="middle">6</text>
<text x="823.3" y="1685.1" font-size="36" font-weight="bold" letter-spacing="0.4" xml:space="preserve">log<tspan font-size="23.5" dy="7.5">2</tspan><tspan dy="-7.5"> (FC)</tspan></text>
<text transform="translate(432 1379.3) rotate(-90)" font-size="36" font-weight="bold" letter-spacing="0.58" xml:space="preserve">-log<tspan font-size="23.5" dy="7.5">10</tspan><tspan dy="-7.5"> (p.value)</tspan></text>
<g fill="#bfbfbf"><circle cx="809.5" cy="1388.9" r="11.35"/><circle cx="814.4" cy="1396.6" r="11.35"/><circle cx="794.0" cy="1397.6" r="11.35"/><circle cx="801.8" cy="1399.5" r="11.35"/><circle cx="786.8" cy="1411.7" r="11.35"/><circle cx="818.2" cy="1421.8" r="11.35"/><circle cx="826.0" cy="1422.8" r="11.35"/><circle cx="821.2" cy="1429.6" r="11.35"/><circle cx="786.8" cy="1437.3" r="11.35"/><circle cx="970.9" cy="1432.5" r="11.35"/><circle cx="802.3" cy="1453.4" r="11.35"/><circle cx="833.8" cy="1451.5" r="11.35"/><circle cx="817.3" cy="1459.6" r="11.35"/><circle cx="834.7" cy="1462.6" r="11.35"/><circle cx="931.3" cy="1453.4" r="11.35"/><circle cx="771.7" cy="1472.3" r="11.35"/><circle cx="761.0" cy="1479.4" r="11.35"/><circle cx="998.4" cy="1479.5" r="11.35"/><circle cx="1025.8" cy="1479.5" r="11.35"/><circle cx="924.0" cy="1472.3" r="11.35"/><circle cx="952.0" cy="1472.3" r="11.35"/><circle cx="1099.4" cy="1479.5" r="11.35"/><circle cx="1108.7" cy="1479.5" r="11.35"/><circle cx="1146.0" cy="1479.5" r="11.35"/><circle cx="1204.7" cy="1479.5" r="11.35"/><circle cx="976.4" cy="1486.9" r="11.35"/><circle cx="810.0" cy="1465.0" r="11.35"/><circle cx="822.0" cy="1470.0" r="11.35"/><circle cx="838.0" cy="1472.0" r="11.35"/><circle cx="808.0" cy="1485.0" r="11.35"/><circle cx="824.0" cy="1488.0" r="11.35"/><circle cx="850.0" cy="1476.0" r="11.35"/><circle cx="940.0" cy="1489.0" r="11.35"/><circle cx="960.0" cy="1484.0" r="11.35"/><circle cx="806.0" cy="1479.5" r="11.35"/><circle cx="812.5" cy="1479.5" r="11.35"/><circle cx="819.0" cy="1479.5" r="11.35"/><circle cx="825.5" cy="1479.5" r="11.35"/><circle cx="832.0" cy="1479.5" r="11.35"/><circle cx="838.5" cy="1479.5" r="11.35"/><circle cx="845.0" cy="1479.5" r="11.35"/><circle cx="851.5" cy="1479.5" r="11.35"/><circle cx="858.0" cy="1479.5" r="11.35"/><circle cx="864.5" cy="1479.5" r="11.35"/><circle cx="871.0" cy="1479.5" r="11.35"/><circle cx="877.5" cy="1479.5" r="11.35"/><circle cx="884.0" cy="1479.5" r="11.35"/><circle cx="890.5" cy="1479.5" r="11.35"/><circle cx="897.0" cy="1479.5" r="11.35"/><circle cx="903.5" cy="1479.5" r="11.35"/><circle cx="910.0" cy="1479.5" r="11.35"/><circle cx="916.5" cy="1479.5" r="11.35"/><circle cx="923.0" cy="1479.5" r="11.35"/><circle cx="929.5" cy="1479.5" r="11.35"/><circle cx="936.0" cy="1479.5" r="11.35"/><circle cx="942.5" cy="1479.5" r="11.35"/><circle cx="949.0" cy="1479.5" r="11.35"/><circle cx="955.5" cy="1479.5" r="11.35"/><circle cx="962.0" cy="1479.5" r="11.35"/><circle cx="968.5" cy="1479.5" r="11.35"/><circle cx="975.0" cy="1479.5" r="11.35"/><circle cx="981.5" cy="1479.5" r="11.35"/><circle cx="848.0" cy="1491.2" r="11.35"/><circle cx="854.7" cy="1491.2" r="11.35"/><circle cx="861.4" cy="1491.2" r="11.35"/><circle cx="868.1" cy="1491.2" r="11.35"/><circle cx="874.8" cy="1491.2" r="11.35"/><circle cx="881.5" cy="1491.2" r="11.35"/><circle cx="888.2" cy="1491.2" r="11.35"/><circle cx="894.9" cy="1491.2" r="11.35"/><circle cx="901.6" cy="1491.2" r="11.35"/><circle cx="908.3" cy="1491.2" r="11.35"/><circle cx="915.0" cy="1491.2" r="11.35"/><circle cx="921.7" cy="1491.2" r="11.35"/><circle cx="928.4" cy="1491.2" r="11.35"/><circle cx="935.1" cy="1491.2" r="11.35"/><circle cx="941.8" cy="1491.2" r="11.35"/></g>
<g fill="#660066"><circle cx="788.8" cy="1357.8" r="11.35"/><circle cx="761.0" cy="1373.9" r="11.35"/><circle cx="778.5" cy="1382.1" r="11.35"/><circle cx="792.1" cy="1382.1" r="11.35"/><circle cx="798.9" cy="1373.3" r="11.35"/><circle cx="786.2" cy="1372.4" r="11.35"/></g>
<g fill="#f1c300"><circle cx="1101.3" cy="1213.8" r="11.35"/><circle cx="1137.7" cy="1236.5" r="11.35"/><circle cx="1089.1" cy="1260.9" r="11.35"/><circle cx="1098.4" cy="1260.9" r="11.35"/><circle cx="1087.1" cy="1290.6" r="11.35"/><circle cx="1100.1" cy="1290.6" r="11.35"/><circle cx="1011.4" cy="1375.2" r="11.35"/><circle cx="1033.2" cy="1375.2" r="11.35"/></g>
<g fill="#00aeef"><circle cx="1125.7" cy="1094.2" r="11.35"/><circle cx="1079.2" cy="1205.3" r="11.35"/></g>
<text transform="translate(876.9 1101.4) scale(1 1.035)" font-size="25.5">Cer (d18:0/24:1-OH)</text>
<text transform="translate(832.4 1212.0) scale(1 1.035)" font-size="25.5">Cer (d18:0/24:0-OH)</text>
<text transform="translate(1114.6 1204.1) scale(1 1.035)" font-size="25.5">CE (20:1)</text>
<text transform="translate(1158.2 1242.5) scale(1 1.035)" font-size="25.5">CE (22:6)</text>
<text transform="translate(968.2 1264.3) scale(1 1.035)" font-size="25.5">CE (20:2)</text>
<text transform="translate(1117.5 1277.4) scale(1 1.035)" font-size="25.5">CE (22:5)</text>
<text transform="translate(965.3 1305.0) scale(1 1.035)" font-size="25.5">CE (20:3)</text>
<text transform="translate(1118.9 1312.3) scale(1 1.035)" font-size="25.5">CE (22:4)</text>
<text transform="translate(882.7 1382.7) scale(1 1.035)" font-size="25.5">CE (20:4)</text>
<text transform="translate(1053.5 1385.6) scale(1 1.035)" font-size="25.5">CE (20:5)</text>
<text transform="translate(527.6 1050.5) scale(1 1.035)" font-size="22.5">CL <tspan dx="3.0">(18:1x4)</tspan></text>
<text transform="translate(527.6 1078.4) scale(1 1.035)" font-size="22.5">CL <tspan dx="3.0">(16:1/18:1x3)</tspan></text>
<text transform="translate(527.6 1106.3) scale(1 1.035)" font-size="22.5">CL <tspan dx="3.0">(16:0/18:1x3)</tspan></text>
<text transform="translate(527.6 1134.2) scale(1 1.035)" font-size="22.5">CL <tspan dx="3.0">(16:0x2/18:1/20:4)</tspan></text>
<text transform="translate(527.6 1162.1) scale(1 1.035)" font-size="22.5">CL <tspan dx="3.0">(16:0x2/18:1x2)</tspan></text>
<text transform="translate(527.6 1190.0) scale(1 1.035)" font-size="22.5">CL <tspan dx="3.0">(16:0x2/18:1/18:2)</tspan></text>
<text transform="translate(527.6 1218.0) scale(1 1.035)" font-size="22.5">CL <tspan dx="3.0">(18:1x3/22:6)</tspan></text>
<text transform="translate(527.6 1245.9) scale(1 1.035)" font-size="22.5">CL <tspan dx="3.0">(16:0/18:1x2/20:4)</tspan></text>
<text transform="translate(527.6 1273.8) scale(1 1.035)" font-size="22.5">CL <tspan dx="3.0">(16:0x2/18:1/22:6)</tspan></text>
<text transform="translate(527.6 1301.7) scale(1 1.035)" font-size="22.5">CL <tspan dx="3.0">(16:0/18:0/18:1/22:6)</tspan></text>
<path d="M763.6 1350.6L749 1323.6" stroke="#000" stroke-width="2" fill="none"/>
<path d="M743.6 1313.8L757.2 1321.8L746.2 1327.8Z" fill="#000"/>
</g>
</svg></body></html>
